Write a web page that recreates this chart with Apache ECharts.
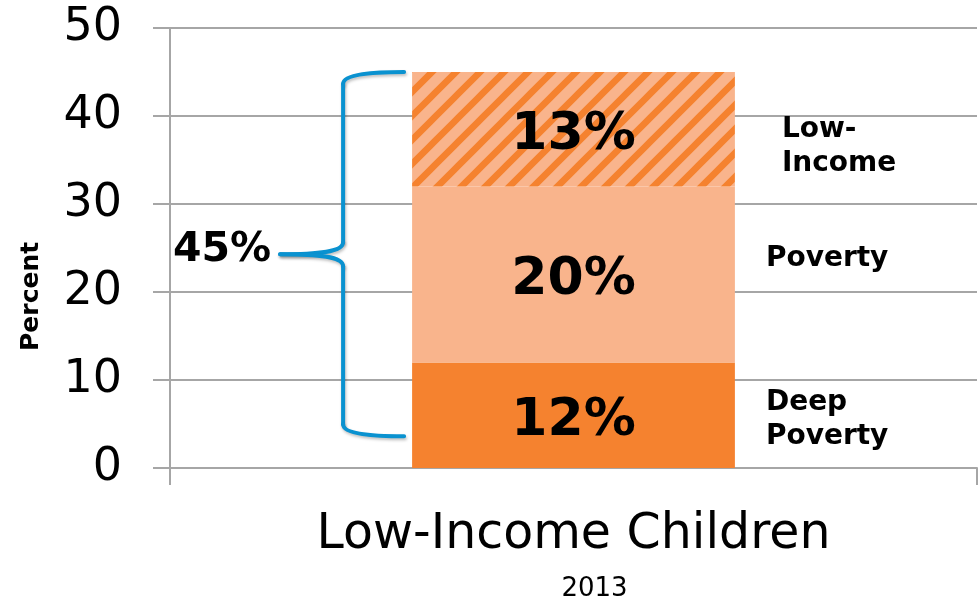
<!DOCTYPE html>
<html><head><meta charset="utf-8">
<script src="https://cdn.jsdelivr.net/npm/echarts@6/dist/echarts.min.js"></script>
<style>html,body{margin:0;padding:0;background:#fff}#c{width:978px;height:602px}</style>
</head><body><div id="c"></div>
<script>
// ---- data ----
const categories = ['Low-Income Children'];
const yearLabel = '2013';
const yAxisTitle = 'Percent';
const seriesNames = ['Deep Poverty', 'Poverty', 'Low-Income'];
const sideLabels = ['Deep\nPoverty', 'Poverty', 'Low-\nIncome'];
const deepPoverty = [12];
const poverty = [20];
const lowIncome = [13];
const totalLabel = '45%';
const braceBottomValue = 3.6;
const yTicks = [0, 10, 20, 30, 40, 50];

// ---- styles ----
const DARK = '#F5822F', LIGHT = '#F9B48C', GRID = '#a6a6a6', BLUE = '#0a92d0';
const FONT = 'DejaVu Sans';

function hatch() {
  const P = 24;
  const c = document.createElement('canvas'); c.width = P; c.height = P;
  const g = c.getContext('2d');
  g.fillStyle = LIGHT; g.fillRect(0, 0, P, P);
  g.strokeStyle = DARK; g.lineWidth = 6.6;
  g.beginPath();
  g.moveTo(-P / 2, P / 2); g.lineTo(P / 2, -P / 2);
  g.moveTo(-4, P + 4); g.lineTo(P + 4, -4);
  g.moveTo(P / 2, P * 1.5); g.lineTo(P * 1.5, P / 2);
  g.stroke();
  return c;
}

const chart = echarts.init(document.getElementById('c'));
const barLabel = {
  show: true, position: 'inside', offset: [0, 6], formatter: '{c}%',
  fontFamily: FONT, fontWeight: 'bold', fontSize: 52, color: '#000'
};
chart.setOption({
  animation: false,
  grid: { left: 170, right: 1, top: 28, bottom: 134, containLabel: false, outerBoundsMode: 'none' },
  xAxis: {
    type: 'category', data: categories,
    axisLine: { lineStyle: { color: GRID, width: 2 } },
    axisTick: { show: true, length: 17, lineStyle: { color: GRID, width: 2 } },
    axisLabel: {
      margin: 36,
      formatter: v => '{a|' + v + '}\n{b|' + yearLabel + '}',
      rich: {
        a: { fontFamily: FONT, fontSize: 49, color: '#000', lineHeight: 62 },
        b: { fontFamily: FONT, fontSize: 26, color: '#000', lineHeight: 46, padding: [0, 0, 0, 42] }
      }
    }
  },
  yAxis: {
    type: 'value', min: yTicks[0], max: yTicks[yTicks.length - 1], interval: yTicks[1] - yTicks[0],
    axisLine: { show: true, lineStyle: { color: GRID, width: 2 } },
    axisTick: { show: true, length: 17, lineStyle: { color: GRID, width: 2 } },
    splitLine: { lineStyle: { color: GRID, width: 2 } },
    axisLabel: { fontFamily: FONT, fontSize: 46, color: '#000', margin: 48 }
  },
  series: [
    { name: seriesNames[0], type: 'bar', stack: 's', data: deepPoverty, barWidth: '40%',
      itemStyle: { color: DARK }, label: barLabel, emphasis: { disabled: true } },
    { name: seriesNames[1], type: 'bar', stack: 's', data: poverty, barWidth: '40%',
      itemStyle: { color: LIGHT }, label: barLabel, emphasis: { disabled: true } },
    { name: seriesNames[2], type: 'bar', stack: 's', data: lowIncome, barWidth: '40%',
      itemStyle: { color: { image: hatch(), repeat: 'repeat' } }, label: barLabel, emphasis: { disabled: true } }
  ]
});

// ---- annotations positioned through the axes ----
const yPx = v => chart.convertToPixel({ yAxisIndex: 0 }, v);
const cx = chart.convertToPixel({ xAxisIndex: 0 }, 0);
const gridW = chart.getWidth() - 170 - 1;
const barL = cx - gridW * 0.2, barR = cx + gridW * 0.2;
const total = deepPoverty[0] + poverty[0] + lowIncome[0];
const yTop = yPx(total), yBot = yPx(braceBottomValue), yMid = yPx((total + braceBottomValue) / 2);
const tipX = barL - 8, vX = barL - 69, pX = barL - 132;

const braceStyle = { stroke: BLUE, lineWidth: 4, fill: null, lineCap: 'round',
  shadowBlur: 3, shadowColor: 'rgba(0,0,0,0.25)', shadowOffsetX: 1, shadowOffsetY: 2 };
const curve = (x1, y1, c1x, c1y, c2x, c2y, x2, y2) => ({
  type: 'bezierCurve', silent: true,
  shape: { x1, y1, cpx1: c1x, cpy1: c1y, cpx2: c2x, cpy2: c2y, x2, y2 }, style: braceStyle });
const line = (x1, y1, x2, y2) => ({ type: 'line', silent: true, shape: { x1, y1, x2, y2 }, style: braceStyle });
const brace = [
  curve(tipX, yTop, tipX - 30, yTop, vX, yTop + 2, vX, yTop + 12),
  line(vX, yTop + 12, vX, yMid - 12),
  curve(vX, yMid - 12, vX, yMid - 2, vX - 25, yMid, pX, yMid),
  curve(pX, yMid, vX - 25, yMid, vX, yMid + 2, vX, yMid + 12),
  line(vX, yMid + 12, vX, yBot - 12),
  curve(vX, yBot - 12, vX, yBot - 2, tipX - 30, yBot, tipX, yBot)
];

const segMid = [deepPoverty[0] / 2, deepPoverty[0] + poverty[0] / 2, deepPoverty[0] + poverty[0] + lowIncome[0] / 2];
const sideOff = [[31, 5], [31, -16], [47, 18]];
const sideText = sideLabels.map((t, i) => ({
  type: 'text', silent: true,
  style: {
    text: t, x: barR + sideOff[i][0], y: yPx(segMid[i]) + sideOff[i][1],
    align: 'left', verticalAlign: 'middle', lineHeight: 34,
    fontFamily: FONT, fontWeight: 'bold', fontSize: 28, fill: '#000'
  }
}));

chart.setOption({
  graphic: brace.concat([
    { type: 'text', silent: true,
      style: { text: totalLabel, x: pX - 9, y: yMid - 4, align: 'right', verticalAlign: 'middle',
        fontFamily: FONT, fontWeight: 'bold', fontSize: 41, fill: '#000' } },
    { type: 'text', silent: true, x: 31, y: yPx(19.5), rotation: Math.PI / 2,
      style: { text: yAxisTitle, x: 0, y: 0, align: 'center', verticalAlign: 'middle',
        fontFamily: FONT, fontWeight: 'bold', fontSize: 25, fill: '#000' } }
  ]).concat(sideText)
});
</script></body></html>
